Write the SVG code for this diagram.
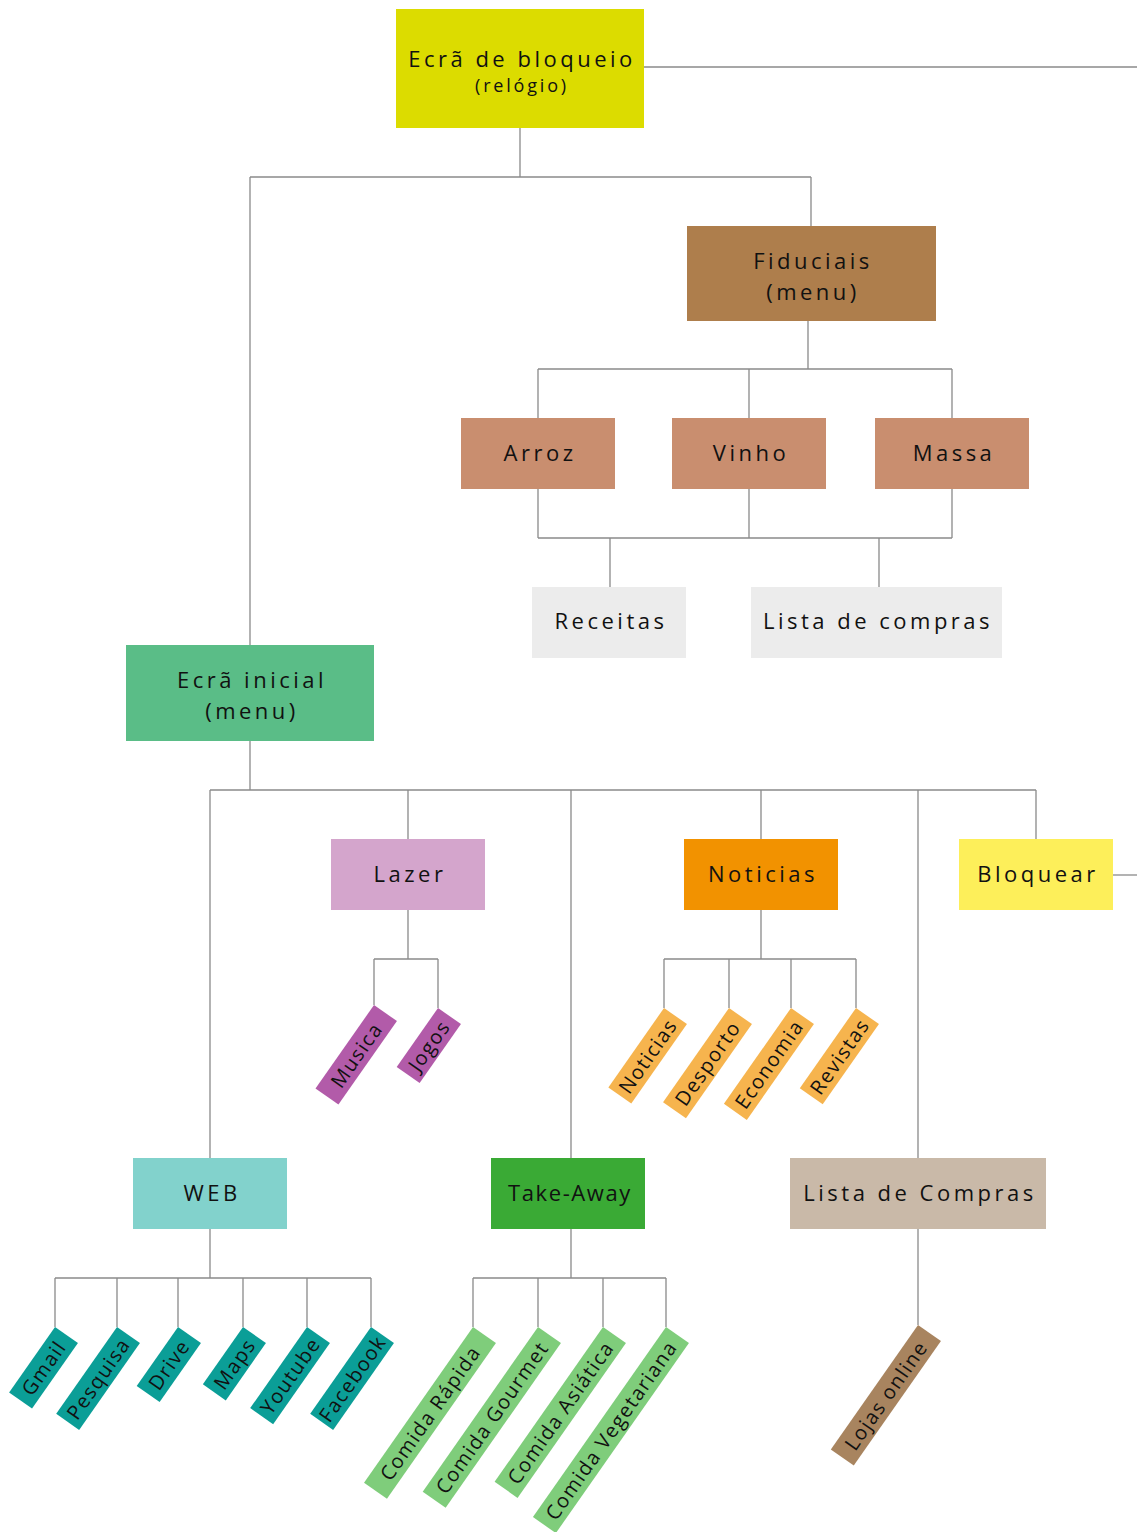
<svg xmlns="http://www.w3.org/2000/svg" width="1137" height="1532" viewBox="0 0 1137 1532">
<style>
.box text{font-family:"Open Sans","DejaVu Sans",sans-serif;font-size:22px;font-weight:500;letter-spacing:3.5px;fill:#111;text-anchor:middle;dominant-baseline:central}
.box text.sm{font-size:18px;letter-spacing:2.8px}
.tag text{font-family:"Open Sans","DejaVu Sans",sans-serif;font-size:20px;font-weight:500;letter-spacing:1.4px;fill:#111;text-anchor:middle;dominant-baseline:central}
#connectors path{fill:none;stroke:#8a8a8a;stroke-width:1.3}
.lazer rect{fill:#b25ba9}
.noti rect{fill:#f6b44e}
.web rect{fill:#0b9e97}
.food rect{fill:#7fcd7b}
.loja rect{fill:#a8845f}
</style>
<rect width="1137" height="1532" fill="#fff"/>
<g id="connectors">
<path d="M644,67 H1137"/>
<path d="M520,128 V177 M250,177 H811 M250,177 V645 M811,177 V226"/>
<path d="M808,321 V369 M538,369 H952 M538,369 V418 M749,369 V418 M952,369 V418"/>
<path d="M538,489 V538 M749,489 V538 M952,489 V538 M538,538 H952 M610,538 V587 M879,538 V587"/>
<path d="M250,741 V790 M210,790 H1036 M210,790 V1158 M408,790 V839 M571,790 V1158 M761,790 V839 M918,790 V1158 M1036,790 V839"/>
<path d="M1113,875 H1137"/>
<path d="M408,910 V959 M374,959 H438 M374,959 V1005 M438,959 V1008"/>
<path d="M761,910 V959 M664,959 H856 M664,959 V1008 M729,959 V1008 M791,959 V1008 M856,959 V1008"/>
<path d="M210,1229 V1278 M55,1278 H371 M55,1278 V1327 M117,1278 V1327 M178,1278 V1327 M243,1278 V1327 M307,1278 V1327 M371,1278 V1327"/>
<path d="M571,1229 V1278 M473,1278 H666 M473,1278 V1327 M538,1278 V1327 M603,1278 V1327 M666,1278 V1327"/>
<path d="M918,1229 V1325"/>
</g>
<g id="ecra-bloqueio" class="box"><rect x="396" y="9" width="248" height="119" fill="#dcdc00"/><text x="522" y="58">Ecrã de bloqueio</text><text class="sm" x="522" y="85">(relógio)</text></g>
<g id="fiduciais" class="box"><rect x="687" y="226" width="249" height="95" fill="#ae7e4c"/><text x="813" y="260">Fiduciais</text><text x="813" y="291">(menu)</text></g>
<g id="arroz" class="box"><rect x="461" y="418" width="154" height="71" fill="#c98e6f"/><text x="540" y="452">Arroz</text></g>
<g id="vinho" class="box"><rect x="672" y="418" width="154" height="71" fill="#c98e6f"/><text x="751" y="452">Vinho</text></g>
<g id="massa" class="box"><rect x="875" y="418" width="154" height="71" fill="#c98e6f"/><text x="954" y="452">Massa</text></g>
<g id="receitas" class="box"><rect x="532" y="587" width="154" height="71" fill="#ececec"/><text x="611" y="620">Receitas</text></g>
<g id="lista-compras-fid" class="box"><rect x="751" y="587" width="251" height="71" fill="#ececec"/><text x="878" y="620">Lista de compras</text></g>
<g id="ecra-inicial" class="box"><rect x="126" y="645" width="248" height="96" fill="#5abd87"/><text x="252" y="679">Ecrã inicial</text><text x="252" y="710">(menu)</text></g>
<g id="lazer" class="box"><rect x="331" y="839" width="154" height="71" fill="#d4a5cc"/><text x="410" y="873">Lazer</text></g>
<g id="noticias" class="box"><rect x="684" y="839" width="154" height="71" fill="#f29200"/><text x="763" y="873">Noticias</text></g>
<g id="bloquear" class="box"><rect x="959" y="839" width="154" height="71" fill="#fdef5a"/><text x="1038" y="873">Bloquear</text></g>
<g id="web" class="box"><rect x="133" y="1158" width="154" height="71" fill="#82d2cc"/><text x="212" y="1192">WEB</text></g>
<g id="take-away" class="box"><rect x="491" y="1158" width="154" height="71" fill="#3aaa35"/><text x="570" y="1192" style="letter-spacing:1.6px">Take-Away</text></g>
<g id="lista-de-compras" class="box"><rect x="790" y="1158" width="256" height="71" fill="#c9b9a8"/><text x="920" y="1192">Lista de Compras</text></g>

<g id="t-musica" class="tag lazer" transform="translate(374,1005) rotate(-55)"><rect x="-102" y="0" width="102" height="28"/><text x="-51" y="14">Musica</text></g>
<g id="t-jogos" class="tag lazer" transform="translate(438,1008) rotate(-55)"><rect x="-72" y="0" width="72" height="28"/><text x="-36" y="14">Jogos</text></g>
<g id="t-noticias" class="tag noti" transform="translate(664,1008) rotate(-55)"><rect x="-97" y="0" width="97" height="28"/><text x="-48.5" y="14">Noticias</text></g>
<g id="t-desporto" class="tag noti" transform="translate(729,1008) rotate(-55)"><rect x="-115" y="0" width="115" height="28"/><text x="-57.5" y="14">Desporto</text></g>
<g id="t-economia" class="tag noti" transform="translate(791,1008) rotate(-55)"><rect x="-117" y="0" width="117" height="28"/><text x="-58.5" y="14">Economia</text></g>
<g id="t-revistas" class="tag noti" transform="translate(856,1008) rotate(-55)"><rect x="-98" y="0" width="98" height="28"/><text x="-49" y="14">Revistas</text></g>
<g id="t-gmail" class="tag web" transform="translate(55,1327) rotate(-55)"><rect x="-80" y="0" width="80" height="28"/><text x="-40" y="14">Gmail</text></g>
<g id="t-pesquisa" class="tag web" transform="translate(117,1327) rotate(-55)"><rect x="-106" y="0" width="106" height="28"/><text x="-53" y="14">Pesquisa</text></g>
<g id="t-drive" class="tag web" transform="translate(178,1327) rotate(-55)"><rect x="-72" y="0" width="72" height="28"/><text x="-36" y="14">Drive</text></g>
<g id="t-maps" class="tag web" transform="translate(243,1327) rotate(-55)"><rect x="-70" y="0" width="70" height="28"/><text x="-35" y="14">Maps</text></g>
<g id="t-youtube" class="tag web" transform="translate(307,1327) rotate(-55)"><rect x="-99" y="0" width="99" height="28"/><text x="-49.5" y="14">Youtube</text></g>
<g id="t-facebook" class="tag web" transform="translate(371,1327) rotate(-55)"><rect x="-106" y="0" width="106" height="28"/><text x="-53" y="14">Facebook</text></g>
<g id="t-rapida" class="tag food" transform="translate(473,1327) rotate(-55)"><rect x="-190" y="0" width="190" height="28"/><text x="-95" y="14">Comida Rápida</text></g>
<g id="t-gourmet" class="tag food" transform="translate(538,1327) rotate(-55)"><rect x="-201" y="0" width="201" height="28"/><text x="-100.5" y="14">Comida Gourmet</text></g>
<g id="t-asiatica" class="tag food" transform="translate(603,1327) rotate(-55)"><rect x="-189" y="0" width="189" height="28"/><text x="-94.5" y="14">Comida Asiática</text></g>
<g id="t-vegetariana" class="tag food" transform="translate(666,1327) rotate(-55)"><rect x="-232" y="0" width="232" height="28"/><text x="-116" y="14">Comida Vegetariana</text></g>
<g id="t-lojas" class="tag loja" transform="translate(918,1325) rotate(-55)"><rect x="-152" y="0" width="152" height="28"/><text x="-76" y="14">Lojas online</text></g>
</svg>
